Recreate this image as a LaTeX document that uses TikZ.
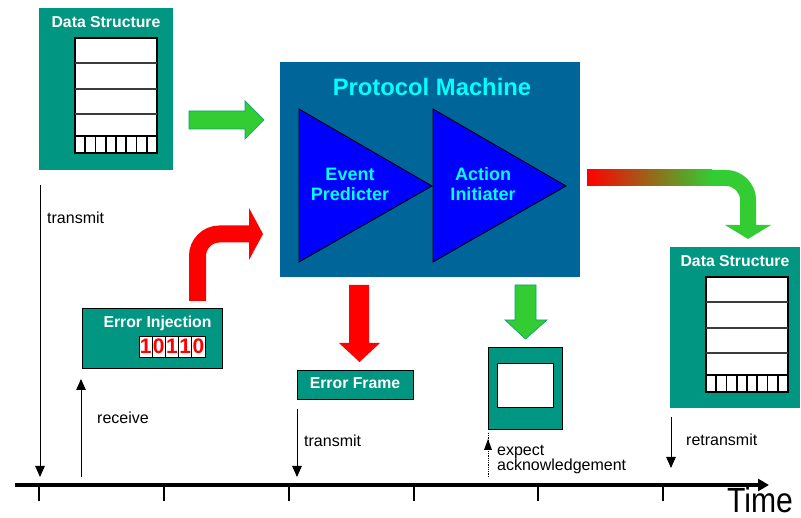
\documentclass[tikz,border=0pt]{standalone}
\usepackage{fontspec}
\setmainfont{Liberation Sans}
\usetikzlibrary{arrows.meta}
\definecolor{tealbox}{RGB}{0,150,130}
\definecolor{pmblue}{RGB}{0,102,153}
\definecolor{agreen}{RGB}{51,204,51}
\definecolor{acyan}{RGB}{0,255,255}
\definecolor{rowgray}{RGB}{60,60,60}
\tikzset{
  tealfill/.style={fill=tealbox, inner sep=0pt},
  tbox/.style={draw=black, line width=0.9pt, fill=tealbox, inner sep=0pt},
  lbl/.style={font=\fontsize{15.8}{18}\selectfont\bfseries, text=white, inner sep=0pt},
  txt/.style={font=\fontsize{16}{16}\selectfont, inner sep=0pt, anchor=west},
  tl/.style={line width=1pt, -{Triangle[width=9.5pt,length=11pt]}},
  bit/.style={draw=black, line width=0.9pt, fill=white, minimum width=13.2pt, minimum height=21pt, inner sep=0pt, text=red, font=\fontsize{21}{21}\selectfont\bfseries},
  dstable/.pic={
    \draw[fill=white, line width=1.2pt] (0,0) rectangle (82,115);
    \foreach \yy in {25,51,76} \draw[rowgray, line width=1.2pt] (0,\yy) -- (82,\yy);
    \draw[line width=1.4pt] (0,98) -- (82,98);
    \foreach \i in {1,...,7} \draw[line width=1.6pt] ({\i*82/8},98) -- ({\i*82/8},115);
  }
}
\begin{document}
\begin{tikzpicture}[x=1pt,y=-1pt]
\useasboundingbox (0,0) rectangle (801,518);

% left data structure
\node[tealfill, minimum width=134pt, minimum height=162pt] (ds1) at (106,89) {};
\node[lbl] (ds1t) at (106,22) {Data Structure};
\pic at (75,38) {dstable};

% right data structure
\node[tealfill, minimum width=130pt, minimum height=161pt] (ds2) at (735,327.5) {};
\node[lbl] (ds2t) at (735,261) {Data Structure};
\pic at (706,277) {dstable};

% protocol machine
\node[fill=pmblue, inner sep=0pt, minimum width=300pt, minimum height=215pt] (pm) at (430,169.5) {};
\node[font=\fontsize{23.8}{26}\selectfont\bfseries, text=acyan, inner sep=0pt] (pmt) at (432,87) {Protocol Machine};
\draw[fill=blue, line width=0.9pt] (299,109) -- (432,186) -- (299,262) -- cycle;
\draw[fill=blue, line width=0.9pt] (433,109) -- (566,186) -- (433,262) -- cycle;
\node[align=center, font=\fontsize{18}{20}\selectfont\bfseries, text=acyan, inner sep=0pt] (ep) at (350,184) {Event\\Predicter};
\node[align=center, font=\fontsize{18}{20}\selectfont\bfseries, text=acyan, inner sep=0pt] (ai) at (483,184) {Action\\Initiater};

% green arrow right
\draw[fill=agreen, draw=tealbox!80!agreen, line width=0.7pt] (189,111) -- (245,111) -- (245,101) -- (264,120) -- (245,139) -- (245,129) -- (189,129) -- cycle;

% red bent arrow
\draw[red, line width=17pt, rounded corners=22pt] (197.5,301) -- (197.5,234) -- (250,234);
\fill[red] (249,208) -- (263,234) -- (249,260) -- cycle;

% error injection
\node[tbox, minimum width=140pt, minimum height=60pt] (ei) at (152,338) {};
\node[lbl] (eit) at (157.5,323) {Error Injection};
\foreach \d [count=\i] in {1,0,1,1,0}
  \node[bit] (b\i) at ({139+6.6+(\i-1)*13.2},346.5) {\d};

% red down arrow
\fill[red] (349,285) -- (369,285) -- (369,343) -- (380,343) -- (359.5,362) -- (339,343) -- (349,343) -- cycle;

% error frame
\node[tbox, minimum width=116pt, minimum height=29pt] (ef) at (355,384.5) {};
\node[lbl] (eft) at (355,383) {Error Frame};

% green down arrow
\draw[fill=agreen, draw=tealbox!80!agreen, line width=0.7pt] (515,285) -- (536,285) -- (536,320) -- (547,320) -- (525.5,339) -- (505,320) -- (515,320) -- cycle;

% ack box
\node[tbox, minimum width=74pt, minimum height=82pt] (ack) at (525,388) {};
\node[draw=black, line width=0.9pt, fill=white, minimum width=56pt, minimum height=44pt, inner sep=0pt] (acki) at (525,385) {};

% gradient bent arrow
\fill[agreen] (587,170) -- (726,170) arc[start angle=-90, end angle=0, radius=30] -- (756,225) -- (771,225) -- (748,239) -- (725,225) -- (740,225) -- (740,200) arc[start angle=0, end angle=-90, radius=14] -- (587,186) -- cycle;
\shade[left color=red, right color=agreen] (587,170) rectangle (712,186);

% timeline
\coordinate (ax0) at (15,485);
\coordinate (ax1) at (769,485);
\draw[line width=3.3pt, -{Triangle[width=12pt,length=11pt]}] (ax0) -- (ax1);
\foreach \xx [count=\k] in {39,164,289,414,538,663} {
  \coordinate (tk\k a) at (\xx,486);
  \coordinate (tk\k b) at (\xx,501);
  \draw[line width=2.6pt] (tk\k a) -- (tk\k b);
}
\node[font=\fontsize{35}{35}\selectfont, inner sep=0pt, anchor=base west] (time) at (727,513) {\scalebox{0.86}[1]{Time}};

% timeline arrows
\coordinate (a1s) at (40,185); \coordinate (a1e) at (40,477);
\draw[tl] (a1s) -- (a1e);
\node[txt] (l1) at (47,218) {transmit};
\coordinate (a2s) at (81,477); \coordinate (a2e) at (81,379);
\draw[tl] (a2s) -- (a2e);
\node[txt] (l2) at (97,418) {receive};
\coordinate (a3s) at (297,409); \coordinate (a3e) at (297,477);
\draw[tl] (a3s) -- (a3e);
\node[txt] (l3) at (304,441) {transmit};
\coordinate (a4s) at (488,477); \coordinate (a4e) at (488,440);
\draw[line width=0.8pt, densely dotted] (a4s) -- ([yshift=8pt]a4e);
\fill (484,450) -- (488,439) -- (492,450) -- cycle;
\node[txt, align=left, font=\fontsize{16}{15}\selectfont] (l4) at (497,459.5) {expect\\acknowledgement};
\coordinate (a5s) at (671,417); \coordinate (a5e) at (671,468);
\draw[tl] (a5s) -- (a5e);
\node[txt] (l5) at (686,440) {retransmit};
\end{tikzpicture}
\end{document}
